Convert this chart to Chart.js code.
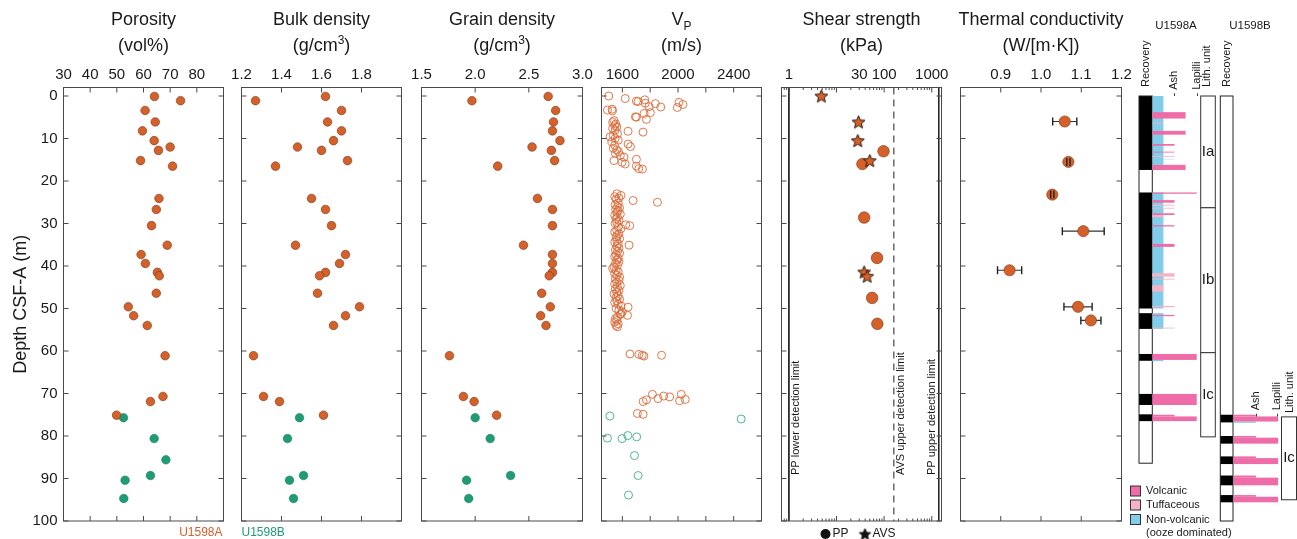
<!DOCTYPE html>
<html>
<head>
<meta charset="utf-8">
<title>Site U1598 physical properties</title>
<script src="https://cdn.jsdelivr.net/npm/chart.js@4.4.1/dist/chart.umd.min.js"></script>
<style>
  html, body { margin:0; padding:0; background:#ffffff; }
  body { position:relative; width:1297px; height:539px; overflow:hidden; }
  canvas { position:absolute; top:0; }
</style>
</head>
<body>
<canvas id="porosity"></canvas>
<canvas id="bulk"></canvas>
<canvas id="grain"></canvas>
<canvas id="vp"></canvas>
<canvas id="shear"></canvas>
<canvas id="tc"></canvas>
<canvas id="litho"></canvas>
<script>
// ================= DATA =================
const depthTicks = [0, 10, 20, 30, 40, 50, 60, 70, 80, 90, 100];

// Moisture and density (MAD), Hole U1598A
const madDepthA = [0.1, 1.1, 3.4, 6.1, 8.2, 10.5, 12.0, 12.8, 15.2, 16.5, 24.1, 26.7, 30.5, 35.1, 37.3, 39.4, 41.5, 42.3, 46.4, 49.6, 51.7, 54.0, 61.1, 70.7, 71.9, 75.1];
const porosityA = [64.1, 73.9, 60.6, 64.4, 59.6, 64.0, 70.0, 65.6, 58.9, 70.9, 65.8, 64.8, 63.0, 68.9, 59.1, 60.7, 65.2, 65.9, 64.8, 54.3, 56.3, 61.4, 68.1, 67.3, 62.6, 49.9];
const bulkDensityA = [1.62, 1.27, 1.70, 1.63, 1.70, 1.66, 1.48, 1.60, 1.73, 1.37, 1.55, 1.62, 1.65, 1.47, 1.72, 1.69, 1.62, 1.59, 1.58, 1.79, 1.72, 1.66, 1.26, 1.31, 1.39, 1.61];
const grainDensityA = [2.68, 1.97, 2.75, 2.73, 2.72, 2.79, 2.53, 2.71, 2.74, 2.21, 2.58, 2.72, 2.72, 2.45, 2.72, 2.72, 2.72, 2.69, 2.62, 2.70, 2.61, 2.66, 1.76, 1.89, 1.99, 2.20];

// MAD, Hole U1598B
const porosityDepthB = [75.7, 80.6, 85.6, 89.3, 90.4, 94.7];
const porosityB = [52.5, 64.0, 68.4, 62.6, 53.1, 52.6];
const madDepthB = [75.7, 80.6, 89.3, 90.4, 94.7];
const bulkDensityB = [1.49, 1.43, 1.51, 1.44, 1.46];
const grainDensityB = [2.00, 2.14, 2.33, 1.92, 1.94];

// P-wave velocity (m/s)
const vpDepthA = [
  0.0, 0.6, 0.9, 1.2, 1.3, 1.5, 1.7, 1.8, 2.0, 2.5, 2.6, 2.7, 3.1, 3.3, 3.5, 3.9, 4.1, 4.9, 5.0, 5.5,
  5.8, 6.2, 6.6, 7.0, 7.3, 7.6, 8.0, 8.3, 8.5, 8.9, 9.3, 9.6, 10.0, 10.4, 10.8, 11.3, 11.6, 11.9, 12.3, 12.7,
  13.1, 13.5, 14.0, 14.4, 14.9, 15.2, 15.6, 16.0, 16.5, 17.1, 17.2,
  23.0, 23.4, 23.7, 24.0, 24.3, 24.6, 25.0, 25.2, 25.6, 26.0, 26.3, 26.7, 27.0, 27.4, 27.8, 28.1, 28.5, 28.9, 29.3, 29.7,
  30.0, 30.3, 30.5, 30.8, 31.2, 31.6, 32.0, 32.4, 32.8, 33.2, 33.6, 34.0, 34.4, 34.8, 35.1, 35.4, 35.8, 36.2, 36.6, 37.0,
  37.4, 37.8, 38.2, 38.6, 39.0, 39.4, 39.8, 40.2, 40.6, 41.0, 41.4, 41.8, 42.2, 42.6, 43.0, 43.4, 43.8, 44.2, 44.6, 45.0,
  45.4, 45.8, 46.2, 46.6, 47.0, 47.4, 47.8, 48.2, 48.6, 49.0, 49.4, 49.7, 50.0, 50.4, 50.8, 51.2, 51.4, 51.6, 52.0, 52.4,
  52.8, 53.2, 53.6, 54.0, 54.3,
  60.7, 60.8, 61.0, 61.0, 61.2,
  70.2, 70.2, 70.6, 70.8, 71.2, 71.4, 71.5, 71.7, 71.9,
  74.7, 74.9];
const vpA = [
  1502, 1620, 1761, 1701, 1713, 2007, 1765, 1837, 2035, 1792, 1876, 1995, 1526, 1493, 1529, 1801, 1756, 1694, 1701, 1773,
  1540, 1530, 1552, 1545, 1560, 1530, 1548, 1641, 1749, 1565, 1535, 1512, 1548, 1570, 1525, 1641, 1545, 1658, 1535, 1560,
  1572, 1550, 1585, 1612, 1701, 1540, 1598, 1620, 1701, 1718, 1744,
  1560, 1590, 1545, 1575, 1555, 1677, 1852, 1570, 1548, 1565, 1580, 1552, 1570, 1560, 1585, 1545, 1565, 1555, 1575, 1560,
  1548, 1624, 1653, 1570, 1590, 1560, 1545, 1575, 1565, 1555, 1580, 1560, 1545, 1570, 1648, 1560, 1575, 1550, 1565, 1580,
  1555, 1545, 1570, 1560, 1575, 1550, 1565, 1540, 1530, 1555, 1570, 1545, 1560, 1580, 1550, 1575, 1560, 1545, 1585, 1565,
  1550, 1575, 1560, 1540, 1570, 1555, 1580, 1560, 1545, 1570, 1590, 1641, 1555, 1575, 1600, 1590, 1586, 1637, 1565, 1550,
  1560, 1545, 1570, 1555, 1565,
  1655, 1719, 1743, 1882, 1755,
  1816, 2023, 1897, 1940, 1856, 2052, 1773, 2011, 1749,
  1708, 1749];
const vpDepthB = [75.3, 76.0, 79.9, 80.2, 80.5, 80.6, 84.6, 89.3, 93.9];
const vpB = [1510, 2454, 1639, 1703, 1493, 1598, 1687, 1713, 1644];

// Shear strength (kPa)
const ppDepth = [13.0, 16.0, 28.6, 38.1, 47.5, 53.6];
const ppStrength = [97, 35, 38, 71, 56, 72];
const avsDepth = [0.0, 6.1, 10.5, 15.2, 41.4, 42.4];
const avsStrength = [4.8, 29, 28, 50, 38, 44];
const ppLowerLimit = 1;
const avsUpperLimit = 160;
const ppUpperLimit = 1400;

// Thermal conductivity (W/[m·K])
const tcDepth = [6.0, 15.5, 23.2, 31.8, 41.0, 49.6, 52.8];
const tcValue = [1.059, 1.068, 1.028, 1.105, 0.922, 1.092, 1.124];
const tcError = [0.030, 0.004, 0.004, 0.052, 0.030, 0.035, 0.025];

// Axis ticks and labels
const porosityTicks = [30, 40, 50, 60, 70, 80, 90];
const porosityTickLabels = ['30', '40', '50', '60', '70', '80', ''];
const bulkTicks = [1.2, 1.4, 1.6, 1.8, 2.0];
const bulkTickLabels = ['1.2', '1.4', '1.6', '1.8', ''];
const grainTicks = [1.5, 2.0, 2.5, 3.0];
const grainTickLabels = ['1.5', '2.0', '2.5', '3.0'];
const vpTicks = [1600, 1800, 2000, 2200, 2400, 2600];
const vpTickLabels = ['1600', '', '2000', '', '2400', ''];
const shearTickLabels = [1, 30, 100, 1000];
const tcTicks = [0.8, 0.9, 1.0, 1.1, 1.2];
const tcTickLabels = ['', '0.9', '1.0', '1.1', '1.2'];

// Lithology / recovery columns  [top, base] in m CSF-A
const coredBaseA = 86.4;
const coredBaseB = 100;
const recoveryA = [[0, 17.4], [22.7, 50.0], [51.1, 54.8], [60.7, 62.3], [70.1, 72.7], [74.9, 76.5]];
const recoveryB = [[75.0, 76.8], [80.0, 81.8], [84.8, 86.6], [89.3, 91.6], [93.9, 95.6]];
// [top, base, type (N non-volcanic, T tuffaceous, V volcanic), grain-size class 1..4]
const lithologyA = [
  [0, 17.4, 'N', 1], [22.7, 50.0, 'N', 1], [51.1, 54.8, 'N', 1], [62.1, 62.4, 'N', 1], [14.8, 14.9, 'N', 2],
  [6.3, 6.5, 'T', 1], [14.1, 14.3, 'T', 2], [25.6, 25.8, 'T', 2], [26.3, 26.5, 'T', 2], [28.0, 28.5, 'T', 1],
  [41.7, 42.5, 'T', 2], [43.0, 43.2, 'T', 2], [44.5, 46.0, 'T', 1], [49.4, 49.7, 'T', 2], [54.5, 54.7, 'T', 2],
  [3.8, 5.3, 'V', 3], [8.2, 9.1, 'V', 3], [11.3, 11.7, 'V', 2], [13.1, 13.3, 'V', 2], [16.2, 17.4, 'V', 3],
  [22.7, 23.0, 'V', 4], [24.5, 25.1, 'V', 2], [27.6, 28.0, 'V', 2], [30.4, 30.7, 'V', 2], [34.8, 35.5, 'V', 2],
  [51.5, 51.8, 'V', 2], [60.7, 62.1, 'V', 4], [70.1, 72.7, 'V', 4], [75.0, 75.4, 'V', 2], [75.4, 76.5, 'V', 4]];
const lithologyB = [
  [76.6, 76.9, 'N', 2],
  [75.0, 75.4, 'V', 2], [75.4, 76.6, 'V', 4], [80.0, 80.4, 'V', 2], [80.4, 81.8, 'V', 4],
  [84.8, 85.2, 'V', 2], [85.2, 86.6, 'V', 4], [89.3, 89.8, 'V', 2], [89.8, 91.6, 'V', 4],
  [93.9, 94.3, 'V', 2], [94.3, 95.6, 'V', 4]];
const unitsA = [[0, 26.3, 'Ia'], [26.3, 60.4, 'Ib'], [60.4, 80.2, 'Ic']];
const unitsB = [[75.5, 95.0, 'Ic']];

// ================= STYLE / LAYOUT =================
const FONT = "'Liberation Sans', Arial, Helvetica, sans-serif";
const ORANGE = '#D4602A';
const ORANGE_EDGE = '#7a3516';
const GREEN = '#1E9C76';
const GREEN_EDGE = '#137055';
const AXIS = '#4a4a4a';
const TEXT = '#1a1a1a';
const DEPTH_MIN = -2, DEPTH_MAX = 100;
const PLOT_TOP = 87.5, PLOT_BOTTOM_PAD = 18;
const LITHO_COLORS = { V: '#EE6CA7', T: '#F6B3C4', N: '#82CDEA' };

function pts(xs, ys) { return xs.map((x, i) => ({ x: x, y: ys[i] })); }

function starImage(fill, stroke, R) {
  const c = document.createElement('canvas');
  const s = Math.ceil(R * 2 + 3);
  c.width = s; c.height = s;
  const g = c.getContext('2d');
  g.beginPath();
  for (let k = 0; k < 10; k++) {
    const r = k % 2 ? R * 0.45 : R;
    const a = -Math.PI / 2 + k * Math.PI / 5;
    g.lineTo(s / 2 + r * Math.cos(a), s / 2 + 0.6 + r * Math.sin(a));
  }
  g.closePath();
  g.fillStyle = fill; g.fill();
  g.lineWidth = 1; g.strokeStyle = stroke; g.stroke();
  return c;
}
const STAR = starImage(ORANGE, '#2a1a10', 6.8);
const STAR_BLACK = starImage('#111', '#111', 6);

function drawTitle(ctx, lines, cx) {
  const baselines = [24.5, 50.5];
  lines.forEach((segs, li) => {
    const fonts = segs.map(s => (s[1] ? '12px ' : '18px ') + FONT);
    let total = 0;
    segs.forEach((s, i) => { ctx.font = fonts[i]; total += ctx.measureText(s[0]).width; });
    let x = cx - total / 2;
    segs.forEach((s, i) => {
      ctx.font = fonts[i];
      ctx.fillStyle = TEXT; ctx.textAlign = 'left'; ctx.textBaseline = 'alphabetic';
      const dy = s[1] === 'sup' ? -7 : (s[1] === 'sub' ? 5 : 0);
      ctx.fillText(s[0], x, baselines[li] + dy);
      x += ctx.measureText(s[0]).width;
    });
  });
}

function makeDeco(p) {
  return {
    id: 'deco_' + p.id,
    afterDraw(chart) {
      const ctx = chart.ctx, a = chart.chartArea;
      const xs = chart.scales.x, ys = chart.scales.y;
      ctx.save();
      if (p.extra) p.extra(chart, ctx, a, xs, ys);
      ctx.strokeStyle = AXIS; ctx.lineWidth = 1;
      ctx.strokeRect(a.left, a.top, a.right - a.left, a.bottom - a.top);
      ctx.beginPath();
      p.xTicks.forEach(v => {
        const px = xs.getPixelForValue(v);
        const L = p.isMinor && p.isMinor(v) ? 2.5 : 5;
        ctx.moveTo(px, a.top); ctx.lineTo(px, a.top + L);
        ctx.moveTo(px, a.bottom); ctx.lineTo(px, a.bottom - L);
      });
      depthTicks.forEach(v => {
        const py = ys.getPixelForValue(v);
        ctx.moveTo(a.left, py); ctx.lineTo(a.left + 5, py);
        ctx.moveTo(a.right, py); ctx.lineTo(a.right - 5, py);
      });
      ctx.stroke();
      drawTitle(ctx, p.title, (a.left + a.right) / 2);
      ctx.restore();
    }
  };
}

function makePanel(p) {
  const canvas = document.getElementById(p.id);
  canvas.width = p.canvasWidth; canvas.height = 539;
  canvas.style.left = p.canvasLeft + 'px';
  const yScale = {
    type: 'linear', reverse: true, min: DEPTH_MIN, max: DEPTH_MAX, display: !!p.showY,
    grid: { display: false, drawTicks: false }, border: { display: false },
    afterBuildTicks: ax => { ax.ticks = depthTicks.map(v => ({ value: v })); }
  };
  if (p.showY) {
    yScale.position = 'left';
    yScale.afterFit = ax => { ax.width = p.yWidth; };
    yScale.ticks = { padding: 6, color: TEXT, font: { family: FONT, size: 15 } };
    yScale.title = { display: true, text: 'Depth CSF-A (m)', color: TEXT,
      font: { family: FONT, size: 18 }, padding: { top: 10, bottom: 0 } };
  }
  return new Chart(canvas, {
    type: 'scatter',
    data: { datasets: p.datasets },
    options: {
      responsive: false, animation: false, events: [],
      layout: { padding: { left: p.padLeft, right: p.padRight, top: 0, bottom: PLOT_BOTTOM_PAD } },
      plugins: { legend: { display: false }, tooltip: { enabled: false } },
      scales: {
        x: {
          type: p.xType || 'linear', position: 'top', min: p.xMin, max: p.xMax,
          grid: { display: false, drawTicks: false }, border: { display: false },
          afterBuildTicks: ax => { ax.ticks = p.xTicks.map(v => ({ value: v })); },
          afterFit: ax => { ax.height = PLOT_TOP; },
          ticks: { autoSkip: false, maxRotation: 0, minRotation: 0, padding: 3.5, color: TEXT,
            font: { family: FONT, size: 15 }, callback: (v, i) => p.xLabel(v, i) }
        },
        y: yScale
      }
    },
    plugins: [makeDeco(p)]
  });
}

const madStyleA = { pointRadius: 4.3, backgroundColor: ORANGE, borderColor: ORANGE_EDGE, borderWidth: 0.6 };
const madStyleB = { pointRadius: 4.3, backgroundColor: GREEN, borderColor: GREEN_EDGE, borderWidth: 0.5 };

// ---- Porosity ----
makePanel({
  id: 'porosity', canvasLeft: 0, canvasWidth: 244, padLeft: 0, padRight: 20.5, showY: true, yWidth: 63.5,
  xMin: 30, xMax: 90, xTicks: porosityTicks, xLabel: (v, i) => porosityTickLabels[i],
  title: [[['Porosity']], [['(vol%)']]],
  datasets: [
    Object.assign({ data: pts(porosityA, madDepthA) }, madStyleA),
    Object.assign({ data: pts(porosityB, porosityDepthB) }, madStyleB)
  ],
  extra: (chart, ctx, a) => {
    ctx.font = '12px ' + FONT; ctx.fillStyle = ORANGE; ctx.textAlign = 'right'; ctx.textBaseline = 'middle';
    ctx.fillText('U1598A', a.right - 1, 533);
  }
});

// ---- Bulk density ----
makePanel({
  id: 'bulk', canvasLeft: 221, canvasWidth: 201, padLeft: 20.5, padRight: 20.5,
  xMin: 1.2, xMax: 2.0, xTicks: bulkTicks, xLabel: (v, i) => bulkTickLabels[i],
  title: [[['Bulk density']], [['(g/cm'], ['3', 'sup'], [')']]],
  datasets: [
    Object.assign({ data: pts(bulkDensityA, madDepthA) }, madStyleA),
    Object.assign({ data: pts(bulkDensityB, madDepthB) }, madStyleB)
  ],
  extra: (chart, ctx, a) => {
    ctx.font = '12px ' + FONT; ctx.fillStyle = GREEN; ctx.textAlign = 'left'; ctx.textBaseline = 'middle';
    ctx.fillText('U1598B', a.left, 533);
  }
});

// ---- Grain density ----
makePanel({
  id: 'grain', canvasLeft: 401, canvasWidth: 202, padLeft: 20.5, padRight: 20.5,
  xMin: 1.5, xMax: 3.0, xTicks: grainTicks, xLabel: (v, i) => grainTickLabels[i],
  title: [[['Grain density']], [['(g/cm'], ['3', 'sup'], [')']]],
  datasets: [
    Object.assign({ data: pts(grainDensityA, madDepthA) }, madStyleA),
    Object.assign({ data: pts(grainDensityB, madDepthB) }, madStyleB)
  ]
});

// ---- P-wave velocity ----
makePanel({
  id: 'vp', canvasLeft: 581, canvasWidth: 201, padLeft: 20.5, padRight: 20.5,
  xMin: 1450, xMax: 2600, xTicks: vpTicks, xLabel: (v, i) => vpTickLabels[i],
  title: [[['V'], ['P', 'sub']], [['(m/s)']]],
  datasets: [
    { data: pts(vpA, vpDepthA), pointRadius: 4, backgroundColor: 'rgba(0,0,0,0)', borderColor: '#DA6A38', borderWidth: 0.9 },
    { data: pts(vpB, vpDepthB), pointRadius: 4, backgroundColor: 'rgba(0,0,0,0)', borderColor: '#3DAE8A', borderWidth: 0.9 }
  ]
});

// ---- Shear strength ----
const shearTicks = [];
[0.1, 1, 10, 100, 1000].forEach(dec => {
  for (let m = 1; m <= 9; m++) { const v = +(m * dec).toPrecision(6); if (v >= 0.72 && v <= 1600) shearTicks.push(v); }
});
const isShearLabel = v => shearTickLabels.some(t => Math.abs(t - v) < 1e-9);
const limitLine = (xv, dash) => ({
  data: [{ x: xv, y: DEPTH_MIN }, { x: xv, y: DEPTH_MAX }], showLine: true, pointRadius: 0,
  borderColor: '#222', borderWidth: 1, borderDash: dash || [], order: 5
});
makePanel({
  id: 'shear', canvasLeft: 761, canvasWidth: 201, padLeft: 20.5, padRight: 20.5,
  xType: 'logarithmic', xMin: 0.72, xMax: 1600, xTicks: shearTicks,
  xLabel: v => (isShearLabel(v) ? String(v) : ''),
  isMinor: v => Math.abs(Math.log10(v) - Math.round(Math.log10(v))) > 1e-9,
  title: [[['Shear strength']], [['(kPa)']]],
  datasets: [
    limitLine(ppLowerLimit), limitLine(avsUpperLimit, [7, 5]), limitLine(ppUpperLimit),
    { data: pts(ppStrength, ppDepth), pointRadius: 5.8, backgroundColor: ORANGE, borderColor: ORANGE_EDGE, borderWidth: 0.6, order: 2 },
    { data: pts(avsStrength, avsDepth), pointStyle: STAR, pointRadius: 6, order: 1 }
  ],
  extra: (chart, ctx, a, xs) => {
    ctx.font = '11px ' + FONT; ctx.fillStyle = TEXT; ctx.textBaseline = 'middle'; ctx.textAlign = 'left';
    const vtext = (txt, x) => { ctx.save(); ctx.translate(x, a.bottom - 46); ctx.rotate(-Math.PI / 2); ctx.fillText(txt, 0, 0); ctx.restore(); };
    vtext('PP lower detection limit', xs.getPixelForValue(ppLowerLimit) + 7);
    vtext('AVS upper detection limit', xs.getPixelForValue(avsUpperLimit) + 7.5);
    vtext('PP upper detection limit', xs.getPixelForValue(ppUpperLimit) - 7);
    // legend
    const ly = 534;
    ctx.fillStyle = '#111';
    ctx.beginPath(); ctx.arc(a.left + 44, ly, 5, 0, Math.PI * 2); ctx.fill();
    ctx.drawImage(STAR_BLACK, a.left + 83.5 - STAR_BLACK.width / 2, ly - STAR_BLACK.height / 2);
    ctx.font = '12px ' + FONT; ctx.fillStyle = TEXT;
    ctx.fillText('PP', a.left + 51, ly);
    ctx.fillText('AVS', a.left + 91, ly);
  }
});

// ---- Thermal conductivity ----
const tcWhiskers = tcDepth.map((d, i) => ({
  data: [{ x: tcValue[i] - tcError[i], y: d }, { x: tcValue[i] + tcError[i], y: d }],
  showLine: true, pointRadius: 0, borderColor: '#333', borderWidth: 1.2, order: 3
}));
const tcCaps = {
  data: pts(tcValue.map((v, i) => v - tcError[i]), tcDepth).concat(pts(tcValue.map((v, i) => v + tcError[i]), tcDepth)),
  pointStyle: 'line', rotation: 90, pointRadius: 4, borderColor: '#222', borderWidth: 1.4, order: 1
};
makePanel({
  id: 'tc', canvasLeft: 940, canvasWidth: 202, padLeft: 20.5, padRight: 20.5,
  xMin: 0.8, xMax: 1.2, xTicks: tcTicks, xLabel: (v, i) => tcTickLabels[i],
  title: [[['Thermal conductivity']], [['(W/[m·K])']]],
  datasets: tcWhiskers.concat([
    { data: pts(tcValue, tcDepth), pointRadius: 5.6, backgroundColor: ORANGE, borderColor: ORANGE_EDGE, borderWidth: 0.6, order: 2 },
    tcCaps
  ])
});

// ---- Lithology / recovery columns ----
const COL = { recA: [14, 27.3], lithA: 27.3, unitA: [75.7, 90.3], recB: [95.3, 108], lithB: 108.7, unitB: [156.5, 171.5], grainStep: 11.1 };
const lithoPlugin = {
  id: 'litho',
  afterDraw(chart) {
    const ctx = chart.ctx, xs = chart.scales.x, ys = chart.scales.y;
    const X = v => xs.getPixelForValue(v), Y = d => ys.getPixelForValue(d);
    const fillR = (x0, x1, d0, d1, c) => { ctx.fillStyle = c; ctx.fillRect(X(x0), Y(d0), X(x1) - X(x0), Y(d1) - Y(d0)); };
    const strokeR = (x0, x1, d0, d1, c) => { ctx.strokeStyle = c; ctx.lineWidth = 1; ctx.strokeRect(X(x0), Y(d0), X(x1) - X(x0), Y(d1) - Y(d0)); };
    ctx.save();
    // recovery columns
    [[COL.recA, coredBaseA, recoveryA], [COL.recB, coredBaseB, recoveryB]].forEach(([c, base, cores]) => {
      fillR(c[0], c[1], 0, base, '#fff');
      cores.forEach(r => fillR(c[0], c[1], r[0], r[1], '#000'));
      strokeR(c[0], c[1], 0, base, '#222');
    });
    // lithology bars
    [[COL.lithA, lithologyA], [COL.lithB, lithologyB]].forEach(([x0, rows]) => {
      ['N', 'T', 'V'].forEach(t => rows.filter(r => r[2] === t).forEach(r => {
        fillR(x0, x0 + r[3] * COL.grainStep, r[0], r[1], LITHO_COLORS[t]);
      }));
    });
    // lith. unit boxes
    ctx.font = '15px ' + FONT; ctx.textAlign = 'center'; ctx.textBaseline = 'middle';
    [[COL.unitA, unitsA], [COL.unitB, unitsB]].forEach(([c, units]) => {
      units.forEach(u => {
        fillR(c[0], c[1], u[0], u[1], '#fff');
        strokeR(c[0], c[1], u[0], u[1], '#333');
        ctx.fillStyle = TEXT;
        ctx.fillText(u[2], (X(c[0]) + X(c[1])) / 2, (Y(u[0]) + Y(u[1])) / 2);
      });
    });
    // headers
    ctx.font = '11.5px ' + FONT; ctx.fillStyle = TEXT; ctx.textAlign = 'center'; ctx.textBaseline = 'middle';
    ctx.fillText('U1598A', X(51), 26);
    ctx.fillText('U1598B', X(125), 26);
    ctx.font = '11px ' + FONT; ctx.textAlign = 'left';
    const vt = (txt, x, y) => { ctx.save(); ctx.translate(X(x), y); ctx.rotate(-Math.PI / 2); ctx.fillText(txt, 0, 0); ctx.restore(); };
    vt('Recovery', 21, 87); vt('- Ash', 49, 96.5); vt('- Lapilli', 71.5, 96.5); vt('Lith. unit', 81.5, 87);
    vt('Recovery', 102, 87);
    vt('- Ash', 131, 417); vt('- Lapilli', 151.5, 417); vt('Lith. unit', 164.5, 413);
    // legend
    const leg = [['V', 'Volcanic', 491], ['T', 'Tuffaceous', 505], ['N', 'Non-volcanic', 519.5]];
    leg.forEach(([t, label, y]) => {
      ctx.fillStyle = LITHO_COLORS[t]; ctx.fillRect(X(5.5), y - 5, 10, 10);
      ctx.strokeStyle = '#333'; ctx.lineWidth = 1; ctx.strokeRect(X(5.5), y - 5, 10, 10);
      ctx.fillStyle = TEXT; ctx.font = '11px ' + FONT; ctx.textAlign = 'left'; ctx.textBaseline = 'middle';
      ctx.fillText(label, X(21), y);
    });
    ctx.fillText('(ooze dominated)', X(21), 533);
    ctx.restore();
  }
};
(function () {
  const canvas = document.getElementById('litho');
  canvas.width = 172; canvas.height = 539; canvas.style.left = '1125px';
  new Chart(canvas, {
    type: 'scatter',
    data: { datasets: [] },
    options: {
      responsive: false, animation: false, events: [],
      layout: { padding: { left: 0, right: 0, top: PLOT_TOP, bottom: PLOT_BOTTOM_PAD } },
      plugins: { legend: { display: false }, tooltip: { enabled: false } },
      scales: {
        x: { type: 'linear', min: 0, max: 172, display: false },
        y: { type: 'linear', reverse: true, min: DEPTH_MIN, max: DEPTH_MAX, display: false }
      }
    },
    plugins: [lithoPlugin]
  });
})();
</script>
</body>
</html>
